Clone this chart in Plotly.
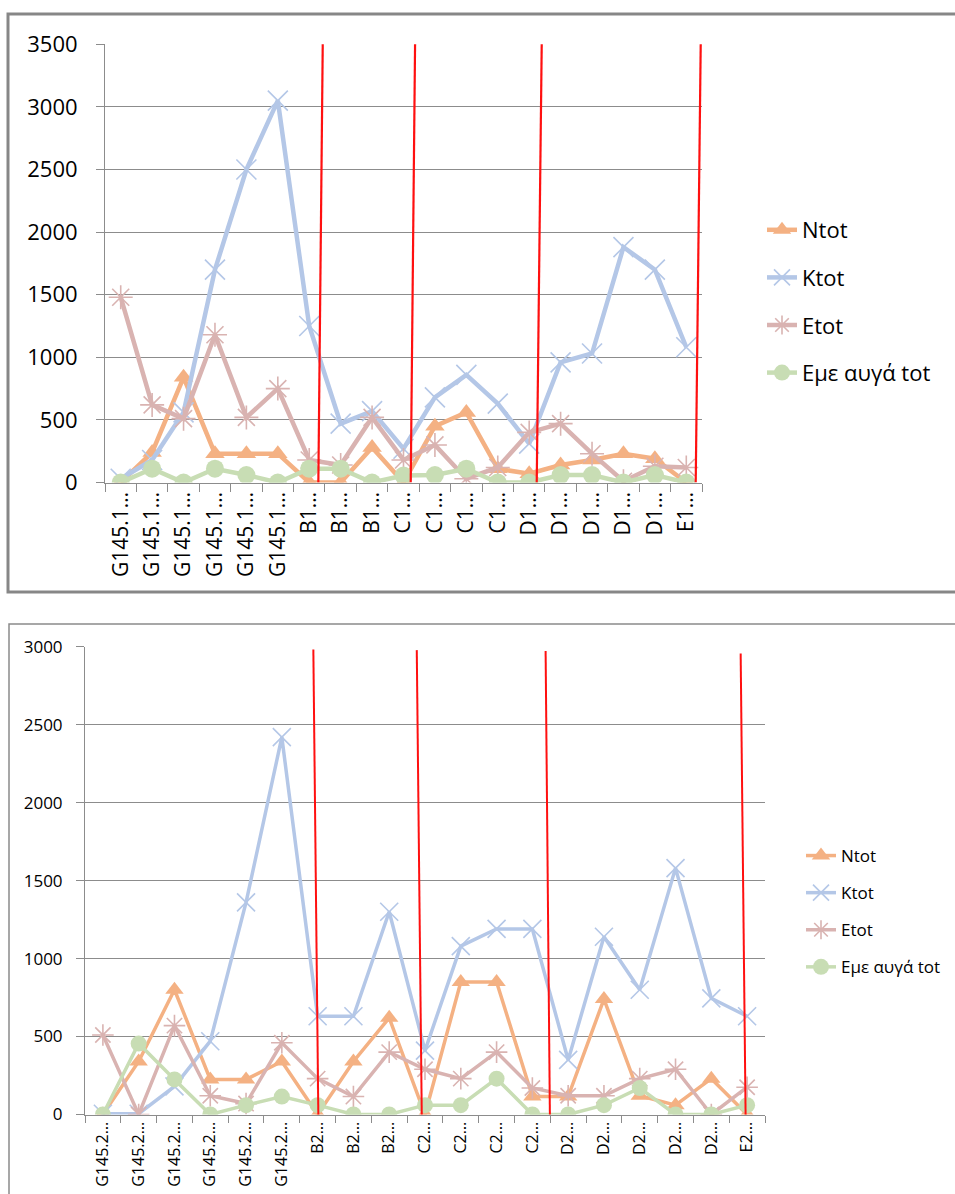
import plotly.graph_objects as go

# ---- data -------------------------------------------------------------
labels_top = ["G145.1…"] * 6 + ["B1…"] * 3 + ["C1…"] * 4 + ["D1…"] * 5 + ["E1…"]
labels_bot = ["G145.2…"] * 6 + ["B2…"] * 3 + ["C2…"] * 4 + ["D2…"] * 5 + ["E2…"]

series_names = ["Ntot", "Ktot", "Etot", "Εμε αυγά tot"]

ntot_top = [0, 240, 840, 230, 230, 230, 0, 0, 280, 0, 450, 560, 110, 70, 140, 180, 230, 190, 0]
ktot_top = [30, 180, 560, 1700, 2500, 3050, 1250, 470, 570, 270, 680, 860, 630, 310, 960, 1030, 1880, 1700, 1080]
etot_top = [1480, 620, 510, 1180, 520, 750, 180, 140, 520, 180, 300, 30, 120, 400, 470, 230, 10, 130, 120]
eggs_top = [0, 110, 0, 110, 60, 0, 110, 110, 0, 55, 60, 110, 0, 0, 60, 60, 0, 60, 0]

ntot_bot = [0, 340, 800, 225, 225, 340, 0, 340, 620, 0, 850, 850, 115, 115, 740, 120, 60, 230, 0]
ktot_bot = [5, 5, 180, 470, 1360, 2420, 630, 630, 1300, 410, 1080, 1190, 1190, 350, 1140, 800, 1580, 745, 630]
etot_bot = [510, 0, 570, 120, 70, 460, 230, 115, 400, 290, 230, 400, 170, 120, 120, 230, 290, 0, 175]
eggs_bot = [0, 455, 225, 0, 60, 115, 60, 0, 0, 60, 60, 230, 0, 0, 60, 170, 0, 0, 60]

# hand-drawn group separators: (x_top, y_top, x_bottom, y_bottom) in axis units
separators_top = [(6.43, 3510, 6.29, 0), (9.37, 3550, 9.23, 0),
                  (13.40, 3520, 13.24, 0), (18.46, 3520, 18.30, 0)]
separators_bot = [(5.88, 2982, 6.02, -16), (8.77, 2978, 8.91, -16),
                  (12.37, 2973, 12.49, -22), (17.82, 2956, 17.96, -46)]

# ---- styling ----------------------------------------------------------
W, H = 955, 1194
FONT = "Open Sans"
colors = ["#F4B183", "#B4C7E7", "#D9B3B1", "#C8DDB4"]
symbols = ["triangle-up", "x-thin", "asterisk", "circle"]
GRID = "#8C8C8C"


def px_x(p):
    return p / W


def px_y(p):
    return 1 - p / H


fig = go.Figure()


def add_panel(values, xa, ya, legend, lw, msizes, suffix):
    xs = list(range(len(values[0])))
    for name, vals, col, sym, ms in zip(series_names, values, colors, symbols, msizes):
        thin = sym in ("x-thin", "asterisk")
        fig.add_trace(go.Scatter(
            x=xs, y=vals, name=name, mode="lines+markers",
            xaxis=xa, yaxis=ya, legend=legend, legendgroup=name + suffix,
            line=dict(color=col, width=lw),
            marker=dict(symbol=sym, size=ms, color=col,
                        line=dict(color=col, width=1.6 if thin else 0)),
            hoverinfo="x+y+name",
        ))


add_panel([ntot_top, ktot_top, etot_top, eggs_top], "x", "y", "legend",
          4.5, [17, 20, 20, 18], "_a")
add_panel([ntot_bot, ktot_bot, etot_bot, eggs_bot], "x2", "y2", "legend2",
          3.5, [16, 18, 18, 16], "_b")


def xaxis_cfg(domain, anchor, labels, fsize, ticklen):
    return dict(
        domain=domain, anchor=anchor, range=[-0.5, len(labels) - 0.5],
        automargin=False,
        tickmode="array", tickvals=list(range(len(labels))), ticktext=labels,
        tickangle=-90, ticks="", showgrid=False, zeroline=False,
        showline=True, linecolor=GRID, linewidth=1,
        tickfont=dict(family=FONT, size=fsize, color="#000"),
        minor=dict(tickmode="linear", tick0=-0.5, dtick=1, ticks="outside",
                   ticklen=ticklen, tickcolor=GRID, tickwidth=1, showgrid=False),
    )


def yaxis_cfg(domain, anchor, top, fsize, standoff):
    return dict(
        domain=domain, anchor=anchor, range=[0, top], tick0=0, dtick=500,
        automargin=False,
        showgrid=True, gridcolor=GRID, gridwidth=1, zeroline=False,
        showline=True, linecolor=GRID, linewidth=1,
        ticks="outside", ticklen=8, tickcolor=GRID,
        ticklabelstandoff=standoff,
        tickfont=dict(family=FONT, size=fsize, color="#000"),
    )


shapes = [
    # chart frames
    dict(type="rect", xref="paper", yref="paper",
         x0=px_x(8), x1=1.02, y0=px_y(592), y1=px_y(14),
         line=dict(color="#878787", width=3), layer="below"),
    dict(type="rect", xref="paper", yref="paper",
         x0=px_x(9), x1=1.02, y0=-0.02, y1=px_y(624),
         line=dict(color="#8A8A8A", width=1.5), layer="below"),
]
for (x0, y0, x1, y1) in separators_top:
    shapes.append(dict(type="line", xref="x", yref="y", x0=x0, y0=y0, x1=x1, y1=y1,
                       line=dict(color="#FF1010", width=2.2)))
for (x0, y0, x1, y1) in separators_bot:
    shapes.append(dict(type="line", xref="x2", yref="y2", x0=x0, y0=y0, x1=x1, y1=y1,
                       line=dict(color="#FF1010", width=2)))

fig.update_layout(
    width=W, height=H, autosize=False,
    margin=dict(l=0, r=0, t=0, b=0, autoexpand=False),
    paper_bgcolor="white", plot_bgcolor="white",
    font=dict(family=FONT, color="#000"),
    xaxis=xaxis_cfg([px_x(105), px_x(702)], "y", labels_top, 21, 8),
    yaxis=yaxis_cfg([px_y(482.5), px_y(44.3)], "x", 3500, 22, 14),
    xaxis2=xaxis_cfg([px_x(85), px_x(765)], "y2", labels_bot, 16, 7),
    yaxis2=yaxis_cfg([px_y(1114.5), px_y(646.7)], "x2", 3000, 17, 10),
    legend=dict(x=px_x(762), y=px_y(209), xanchor="left", yanchor="top",
                font=dict(family=FONT, size=22, color="#000"),
                tracegroupgap=16, bgcolor="rgba(0,0,0,0)", itemclick=False),
    legend2=dict(x=px_x(801), y=px_y(838), xanchor="left", yanchor="top",
                 font=dict(family=FONT, size=17, color="#000"),
                 tracegroupgap=12, bgcolor="rgba(0,0,0,0)", itemclick=False),
    shapes=shapes,
    showlegend=True,
)

fig.write_html("out.html")
